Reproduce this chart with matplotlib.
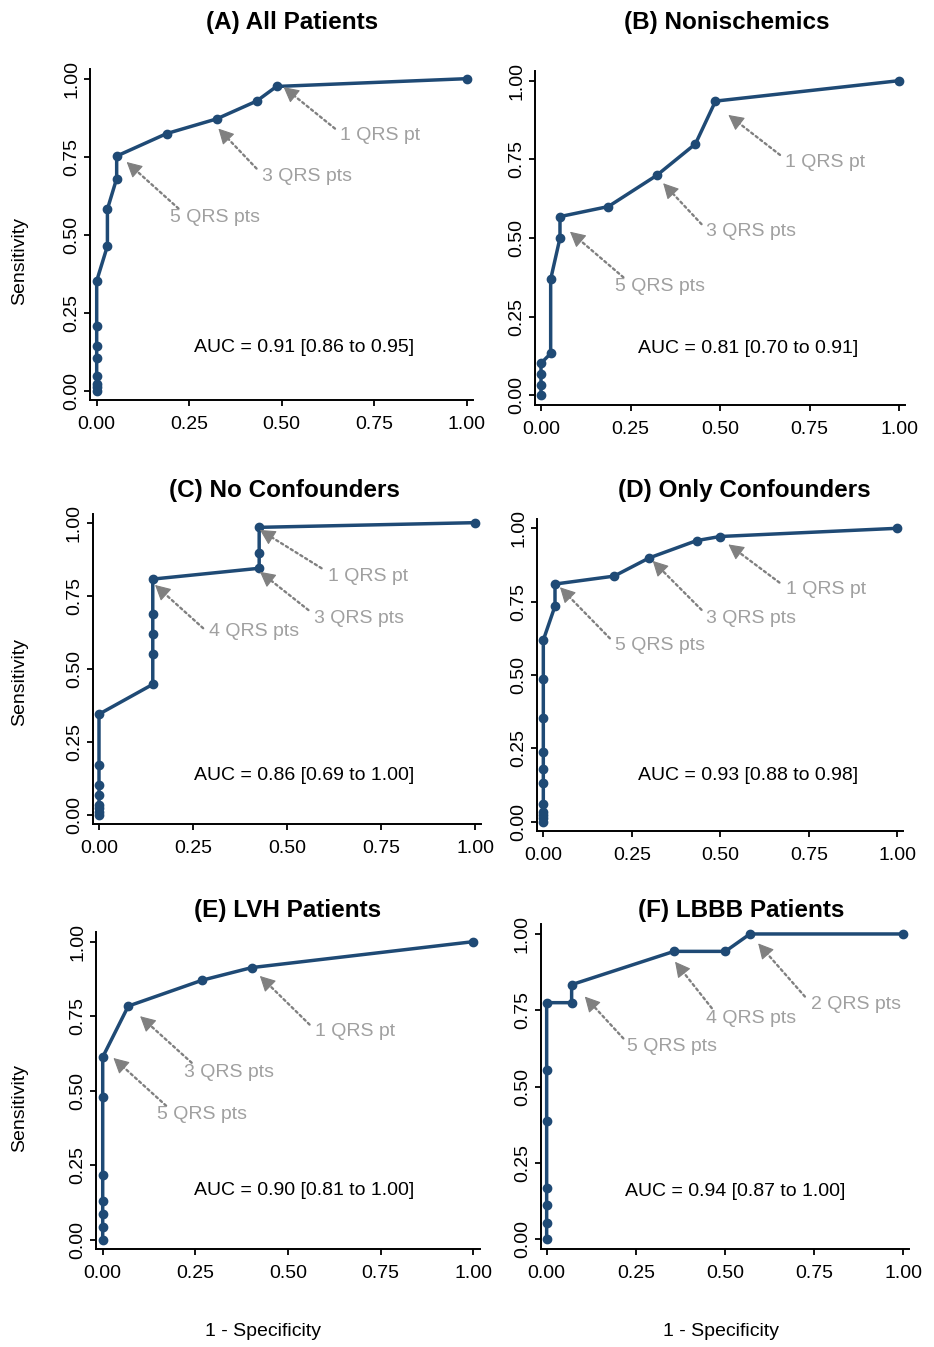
import matplotlib
matplotlib.use("Agg")
import matplotlib.pyplot as plt

plt.rcParams['font.family'] = ['Liberation Sans', 'DejaVu Sans']

# ---------------- data ----------------
titles = ["(A) All Patients", "(B) Nonischemics", "(C) No Confounders",
          "(D) Only Confounders", "(E) LVH Patients", "(F) LBBB Patients"]

auc_labels = ["AUC = 0.91 [0.86 to 0.95]", "AUC = 0.81 [0.70 to 0.91]",
              "AUC = 0.86 [0.69 to 1.00]", "AUC = 0.93 [0.88 to 0.98]",
              "AUC = 0.90 [0.81 to 1.00]", "AUC = 0.94 [0.87 to 1.00]"]

fpr_A = [0, 0, 0, 0, 0, 0, 0, 0, 0.029, 0.029, 0.054, 0.054, 0.189, 0.324, 0.432, 0.486, 1.0]
tpr_A = [0, 0.012, 0.023, 0.047, 0.104, 0.143, 0.207, 0.352, 0.464, 0.582, 0.680, 0.752, 0.824, 0.871, 0.928, 0.975, 1.0]

fpr_B = [0, 0, 0, 0, 0.027, 0.027, 0.053, 0.053, 0.188, 0.323, 0.431, 0.487, 1.0]
tpr_B = [0, 0.033, 0.067, 0.102, 0.133, 0.369, 0.500, 0.568, 0.600, 0.699, 0.799, 0.935, 1.0]

fpr_C = [0, 0, 0, 0, 0, 0, 0, 0, 0.143, 0.143, 0.143, 0.143, 0.143, 0.426, 0.426, 0.426, 1.0]
tpr_C = [0, 0.011, 0.023, 0.034, 0.068, 0.103, 0.171, 0.345, 0.447, 0.551, 0.619, 0.688, 0.807, 0.844, 0.895, 0.984, 1.0]

fpr_D = [0, 0, 0, 0, 0, 0, 0, 0, 0, 0, 0, 0.033, 0.033, 0.200, 0.299, 0.433, 0.499, 1.0]
tpr_D = [0, 0.011, 0.023, 0.034, 0.060, 0.133, 0.178, 0.236, 0.353, 0.486, 0.619, 0.735, 0.810, 0.837, 0.899, 0.958, 0.972, 1.0]

fpr_E = [0, 0, 0, 0, 0, 0, 0, 0.069, 0.269, 0.402, 1.0]
tpr_E = [0, 0.043, 0.086, 0.131, 0.217, 0.478, 0.613, 0.784, 0.871, 0.913, 1.0]

fpr_F = [0, 0, 0, 0, 0, 0, 0, 0.070, 0.070, 0.357, 0.501, 0.570, 1.0]
tpr_F = [0, 0.055, 0.111, 0.167, 0.389, 0.555, 0.775, 0.775, 0.834, 0.943, 0.943, 1.0, 1.0]

fprs = [fpr_A, fpr_B, fpr_C, fpr_D, fpr_E, fpr_F]
tprs = [tpr_A, tpr_B, tpr_C, tpr_D, tpr_E, tpr_F]

# threshold annotations: label, arrow tip (x, y), arrow tail (x, y), text (x, y)
notes_A = [("1 QRS pt", (0.505, 0.973), (0.644, 0.840), (0.658, 0.819)),
           ("3 QRS pts", (0.329, 0.840), (0.432, 0.712), (0.446, 0.687)),
           ("5 QRS pts", (0.081, 0.733), (0.221, 0.584), (0.198, 0.554))]
notes_B = [("1 QRS pt", (0.523, 0.891), (0.667, 0.764), (0.681, 0.740)),
           ("3 QRS pts", (0.341, 0.674), (0.448, 0.544), (0.460, 0.520)),
           ("5 QRS pts", (0.081, 0.520), (0.230, 0.375), (0.207, 0.345))]
notes_C = [("1 QRS pt", (0.428, 0.975), (0.592, 0.844), (0.610, 0.815)),
           ("3 QRS pts", (0.428, 0.832), (0.557, 0.701), (0.573, 0.673)),
           ("4 QRS pts", (0.149, 0.787), (0.277, 0.639), (0.293, 0.627))]
notes_D = [("1 QRS pt", (0.523, 0.945), (0.667, 0.815), (0.686, 0.790)),
           ("3 QRS pts", (0.309, 0.889), (0.447, 0.722), (0.460, 0.693)),
           ("5 QRS pts", (0.047, 0.799), (0.188, 0.625), (0.202, 0.600))]
notes_E = [("1 QRS pt", (0.424, 0.885), (0.558, 0.722), (0.573, 0.700)),
           ("3 QRS pts", (0.101, 0.750), (0.240, 0.594), (0.218, 0.560)),
           ("5 QRS pts", (0.029, 0.610), (0.171, 0.450), (0.147, 0.420))]
notes_F = [("2 QRS pts", (0.593, 0.969), (0.724, 0.795), (0.740, 0.770)),
           ("4 QRS pts", (0.360, 0.909), (0.463, 0.757), (0.447, 0.724)),
           ("5 QRS pts", (0.107, 0.795), (0.215, 0.658), (0.226, 0.633))]
notes = [notes_A, notes_B, notes_C, notes_D, notes_E, notes_F]

auc_pos = [(0.560, 0.137), (0.578, 0.150), (0.545, 0.134),
           (0.578, 0.156), (0.543, 0.165), (0.528, 0.158)]

ticks = [0, 0.25, 0.5, 0.75, 1.0]
tick_labels = ["0.00", "0.25", "0.50", "0.75", "1.00"]

# ---------------- layout (pixels: left, top, width, height) ----------------
W, H = 934, 1347
rects = [(90.4, 69.0, 382.6, 331.4), (534.9, 70.9, 370.5, 334.2),
         (92.6, 513.6, 388.8, 310.5), (537.3, 519.2, 366.0, 311.6),
         (96.4, 932.4, 383.3, 316.8), (540.6, 924.5, 368.8, 324.3)]
title_pos = [(292, 22), (727, 22), (284, 491), (744, 491), (288, 910), (741, 910)]

LINE = "#1f4a75"
ARROW = "#808080"
NOTE = "#a0a0a0"

fig = plt.figure(figsize=(W / 100, H / 100), dpi=100)

for i in range(6):
    l, t, w, h = rects[i]
    ax = fig.add_axes([l / W, 1 - (t + h) / H, w / W, h / H])
    ax.plot(fprs[i], tprs[i], color=LINE, lw=2.5, marker='o', ms=6,
            solid_joinstyle='round', zorder=3)
    ax.set_xlim(-0.017, 1.017)
    ax.set_ylim(-0.031, 1.031)
    ax.set_xticks(ticks)
    ax.set_xticklabels(tick_labels)
    ax.set_yticks(ticks)
    ax.set_yticklabels(tick_labels, rotation=90, va='center')
    ax.tick_params(labelsize=14, length=4, width=1.3, colors='black')
    ax.tick_params(axis='x', pad=7.5)
    ax.tick_params(axis='y', pad=3)
    for s in ['top', 'right']:
        ax.spines[s].set_visible(False)
    for s in ['left', 'bottom']:
        ax.spines[s].set_linewidth(1.4)
    for lab, tip, tail, txt in notes[i]:
        # dotted shaft
        ax.annotate('', xy=tip, xytext=tail,
                    arrowprops=dict(arrowstyle='-', color=ARROW, lw=1.7,
                                    linestyle=(0, (1, 1.4)),
                                    shrinkA=0, shrinkB=3), zorder=4)
        # solid filled head
        near = (tip[0] + 0.12 * (tail[0] - tip[0]), tip[1] + 0.12 * (tail[1] - tip[1]))
        ax.annotate('', xy=tip, xytext=near,
                    arrowprops=dict(arrowstyle='-|>,head_length=0.95,head_width=0.5',
                                    color=ARROW, lw=0.8,
                                    shrinkA=0, shrinkB=0), zorder=4)
        ax.text(txt[0], txt[1], lab, fontsize=14, color=NOTE,
                ha='left', va='center', zorder=5)
    ax.text(auc_pos[i][0], auc_pos[i][1], auc_labels[i], fontsize=14,
            ha='center', va='center', color='black')
    fig.text(title_pos[i][0] / W, 1 - title_pos[i][1] / H, titles[i],
             fontsize=17.5, fontweight='bold', ha='center', va='center')

for y in [261, 682, 1108]:
    fig.text(20 / W, 1 - y / H, "Sensitivity", fontsize=14, rotation=90,
             ha='center', va='center')
for x in [263, 721]:
    fig.text(x / W, 1 - 1332 / H, "1 - Specificity", fontsize=14,
             ha='center', va='center')

fig.savefig("out.png", dpi=100, facecolor='white')
